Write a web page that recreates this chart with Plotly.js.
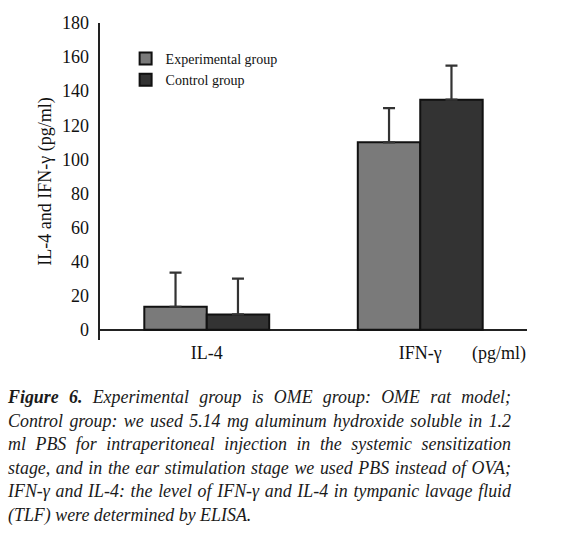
<!DOCTYPE html>
<html>
<head>
<meta charset="utf-8">
<script src="https://cdn.plot.ly/plotly-3.0.1.min.js"></script>
<style>
  html, body { margin: 0; padding: 0; background: #fff; }
  #wrap { position: relative; width: 573px; height: 541px; }
  #chart { position: absolute; left: 0; top: 0; width: 573px; height: 541px; }
  #caption { position: absolute; left: 8px; top: 386px; width: 503px;
    font-family: "Liberation Serif", "Times New Roman", serif; font-style: italic;
    font-size: 17.9px; line-height: 23.5px; color: #1a1a1a; }
  #caption div { text-align: justify; text-align-last: justify; white-space: normal; }
  #caption div.last { text-align: left; text-align-last: left; }
</style>
</head>
<body>
<div id="wrap">
  <div id="chart"></div>
  <div id="caption">
    <div><b>Figure 6.</b> Experimental group is OME group: OME rat model;</div>
    <div>Control group: we used 5.14 mg aluminum hydroxide soluble in 1.2</div>
    <div>ml PBS for intraperitoneal injection in the systemic sensitization</div>
    <div>stage, and in the ear stimulation stage we used PBS instead of OVA;</div>
    <div>IFN-γ and IL-4: the level of IFN-γ and IL-4 in tympanic lavage fluid</div>
    <div class="last">(TLF) were determined by ELISA.</div>
  </div>
</div>
<script>
const categories = ['IL-4', 'IFN-γ'];
const seriesNames = ['Experimental group', 'Control group'];
const expMeans = [13.5, 110];
const expErr = [20, 20];
const ctrlMeans = [9, 135];
const ctrlErr = [21, 20];
const yTicks = [0, 20, 40, 60, 80, 100, 120, 140, 160, 180];
const dividerTicks = [0.5, 1.5];
const unitLabel = '(pg/ml)';
const yTitle = 'IL-4 and IFN-γ (pg/ml)';

const serif = 'Liberation Serif, Times New Roman, serif';

function barTrace(name, vals, errs, color) {
  return {
    type: 'bar', name: name, x: categories, y: vals,
    marker: { color: color, line: { color: '#111', width: 2 } },
    error_y: { type: 'data', array: errs, arrayminus: errs.map(() => 0), symmetric: false,
      color: '#333', thickness: 2.2, width: 6 },
    hoverinfo: 'none'
  };
}

const data = [
  barTrace(seriesNames[0], expMeans, expErr, '#7a7a7a'),
  barTrace(seriesNames[1], ctrlMeans, ctrlErr, '#333333')
];

const layout = {
  width: 573, height: 541,
  margin: { l: 100, r: 46, t: 23, b: 201 },
  paper_bgcolor: '#fff', plot_bgcolor: '#fff',
  barmode: 'group', bargap: 0.415, bargroupgap: 0,
  font: { family: serif, size: 18, color: '#111' },
  showlegend: true,
  legend: { x: 0.06, xanchor: 'left', y: 0.937, yanchor: 'top',
    font: { family: serif, size: 14, color: '#111' }, bgcolor: 'rgba(0,0,0,0)' },
  xaxis: {
    type: 'category', range: [-0.5, 1.5], showline: false, ticks: '',
    showgrid: false, zeroline: false, tickfont: { family: serif, size: 18, color: '#111' }
  },
  xaxis2: {
    type: 'linear', overlaying: 'x', anchor: 'free', position: 6 / 186, range: [-0.5, 1.5],
    tickvals: dividerTicks, ticks: 'inside', ticklen: 9, tickwidth: 2.2, tickcolor: '#333',
    showticklabels: false, showgrid: false, zeroline: false, showline: false
  },
  yaxis: {
    range: [-6, 180], tickvals: yTicks, ticks: '', ticklabelstandoff: 5,
    showgrid: false, showline: true, linecolor: '#222', linewidth: 2.5,
    zeroline: true, zerolinecolor: '#222', zerolinewidth: 2.2,
    tickfont: { family: serif, size: 18, color: '#111' },
    title: { text: yTitle, font: { family: serif, size: 18, color: '#111' }, standoff: 6 }
  },
  annotations: [{
    text: unitLabel, xref: 'x', yref: 'paper', x: 1.37, y: 0, yanchor: 'top', yshift: -1,
    showarrow: false, font: { family: serif, size: 18, color: '#111' }
  }]
};

Plotly.newPlot('chart', data, layout, { displayModeBar: false, staticPlot: true });
</script>
</body>
</html>
